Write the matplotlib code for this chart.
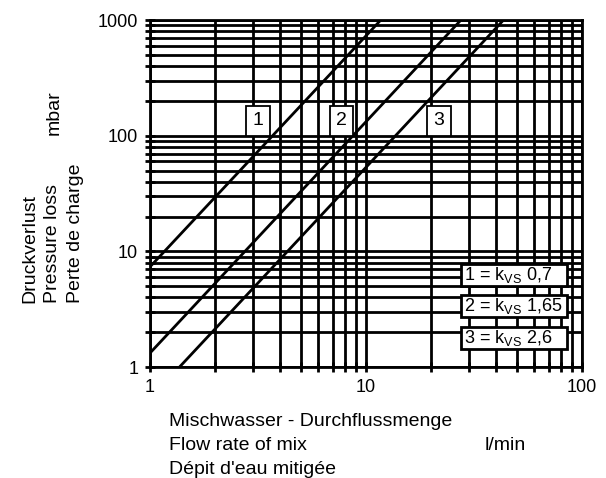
import matplotlib
matplotlib.use('Agg')
import matplotlib.pyplot as plt
from matplotlib.patches import Rectangle

plt.rcParams['font.family'] = ['Liberation Sans', 'DejaVu Sans']
plt.rcParams['mathtext.fontset'] = 'custom'
plt.rcParams['mathtext.rm'] = 'Liberation Sans'

# end points of the three kvs lines (l/min, mbar)
flow_1 = [1, 11.7]
loss_1 = [7.35, 1000]
flow_2 = [1, 27.5]
loss_2 = [1.32, 1000]
flow_3 = [1.37, 43.3]
loss_3 = [1, 1000]

curve_names = ['1', '2', '3']
curve_label_x = [3.16, 7.7, 21.8]
curve_label_y = [135, 135, 135]
legend_texts = [r'1 = k$_\mathregular{VS}$ 0,7',
                r'2 = k$_\mathregular{VS}$ 1,65',
                r'3 = k$_\mathregular{VS}$ 2,6']

fs = 13
fs_lab = 14

fig = plt.figure(figsize=(6.06, 4.78), dpi=100)
ax = fig.add_axes([0.2475, 0.2322, 0.7129, 0.7258])
ax.set_xscale('log')
ax.set_yscale('log')
ax.set_xlim(1, 100)
ax.set_ylim(1, 1000)

ax.grid(True, which='both', color='black', linewidth=2.0)
ax.set_axisbelow(True)
for s in ax.spines.values():
    s.set_linewidth(2.0)

for fx, ly in [(flow_1, loss_1), (flow_2, loss_2), (flow_3, loss_3)]:
    ax.plot(fx, ly, color='black', linewidth=2.0, solid_capstyle='butt')

ax.set_xticks([1, 10, 100])
ax.set_xticklabels(['1', '10', '100'])
ax.set_yticks([1, 10, 100, 1000])
ax.set_yticklabels(['1', '10', '100', '1000'])
ax.tick_params(which='both', direction='inout', length=7, width=2.0,
               labelsize=fs, pad=5)

for name, x, y in zip(curve_names, curve_label_x, curve_label_y):
    ax.text(x, y, name, fontsize=fs_lab, ha='center', va='center',
            bbox=dict(boxstyle='square,pad=0.33', fc='white', ec='black', lw=1.3))

box_y = [0.265, 0.177, 0.085]
for t, yc in zip(legend_texts, box_y):
    ax.add_patch(Rectangle((0.72, yc - 0.0317), 0.245, 0.0634, transform=ax.transAxes,
                           facecolor='white', edgecolor='black', linewidth=2.0, zorder=5))
    ax.text(0.726, yc, t, transform=ax.transAxes, fontsize=fs, ha='left',
            va='center', zorder=6)

# y label block
for i, line in enumerate(['Druckverlust', 'Pressure loss', 'Perte de charge']):
    fig.text((29.5 + i * 22.8) / 606, 1 - 303 / 478, line, rotation=90,
             fontsize=fs_lab, ha='center', va='bottom')
fig.text(54 / 606, 1 - 113 / 478, 'mbar', rotation=90, fontsize=fs_lab,
         ha='center', va='center')

# x label block
for i, line in enumerate(['Mischwasser - Durchflussmenge', 'Flow rate of mix',
                          "Dépit d'eau mitigée"]):
    fig.text(169 / 606, 1 - (421 + i * 24) / 478, line, fontsize=fs_lab,
             ha='left', va='center')
fig.text(485 / 606, 1 - 445 / 478, 'l/min', fontsize=fs_lab, ha='left', va='center')

fig.savefig('out.png', dpi=100)
